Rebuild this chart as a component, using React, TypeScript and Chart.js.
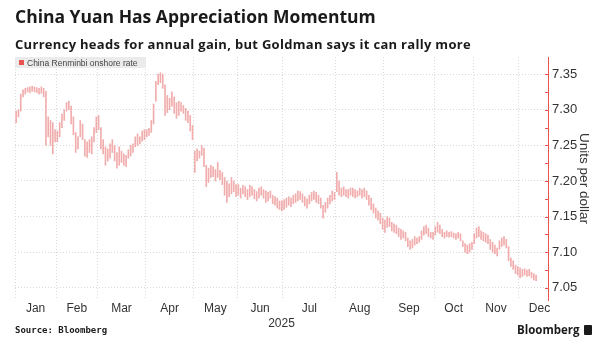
import React, { useEffect, useRef } from "react";
import { Chart, registerables } from "chart.js";

Chart.register(...registerables);

const TITLE = "China Yuan Has Appreciation Momentum";
const SUBTITLE = "Currency heads for annual gain, but Goldman says it can rally more";
const SERIES_NAME = "China Renminbi onshore rate";
const Y_TITLE = "Units per dollar";
const YEAR_LABEL = "2025";
const SOURCE = "Source: Bloomberg";

const MONTHS = ["Jan", "Feb", "Mar", "Apr", "May", "Jun", "Jul", "Aug", "Sep", "Oct", "Nov", "Dec"];
// trading days per month shown on the chart
const MONTH_DAYS = [18, 18, 21, 21, 19, 20, 23, 21, 22, 17, 20, 8];
const Y_TICKS = [7.05, 7.1, 7.15, 7.2, 7.25, 7.3, 7.35];

// daily low of the onshore rate
const LOW = [
  /* Jan */ 7.282, 7.29, 7.298, 7.318, 7.322, 7.325, 7.324, 7.326, 7.325, 7.324, 7.322, 7.323, 7.318, 7.25, 7.262, 7.25, 7.238, 7.255,
  /* Feb */ 7.255, 7.262, 7.275, 7.285, 7.298, 7.3, 7.28, 7.265, 7.24, 7.245, 7.262, 7.258, 7.235, 7.233, 7.24, 7.238, 7.255, 7.268,
  /* Mar */ 7.272, 7.245, 7.238, 7.222, 7.228, 7.232, 7.24, 7.228, 7.218, 7.222, 7.226, 7.222, 7.22, 7.232, 7.235, 7.24, 7.248, 7.25, 7.252, 7.256, 7.258,
  /* Apr */ 7.262, 7.264, 7.268, 7.28, 7.312, 7.335, 7.338, 7.33, 7.292, 7.296, 7.3, 7.305, 7.295, 7.288, 7.292, 7.298, 7.295, 7.285, 7.282, 7.27, 7.258,
  /* May */ 7.212, 7.228, 7.232, 7.236, 7.22, 7.192, 7.198, 7.205, 7.206, 7.2, 7.205, 7.202, 7.195, 7.18, 7.17, 7.178, 7.182, 7.185, 7.178,
  /* Jun */ 7.18, 7.176, 7.182, 7.178, 7.174, 7.178, 7.18, 7.175, 7.172, 7.176, 7.18, 7.176, 7.17, 7.172, 7.176, 7.168, 7.166, 7.162, 7.16, 7.158,
  /* Jul */ 7.16, 7.163, 7.166, 7.164, 7.168, 7.17, 7.172, 7.174, 7.17, 7.165, 7.162, 7.168, 7.172, 7.174, 7.17, 7.168, 7.162, 7.148, 7.156, 7.162, 7.168, 7.172, 7.174,
  /* Aug */ 7.185, 7.18, 7.178, 7.18, 7.178, 7.176, 7.18, 7.178, 7.176, 7.178, 7.18, 7.176, 7.178, 7.174, 7.166, 7.16, 7.155, 7.148, 7.145, 7.14, 7.132,
  /* Sep */ 7.128, 7.135, 7.136, 7.13, 7.128, 7.126, 7.122, 7.118, 7.12, 7.116, 7.108, 7.104, 7.106, 7.11, 7.112, 7.114, 7.118, 7.124, 7.126, 7.122, 7.12, 7.118,
  /* Oct */ 7.124, 7.128, 7.126, 7.122, 7.12, 7.122, 7.121, 7.122, 7.12, 7.118, 7.12, 7.116, 7.108, 7.1, 7.098, 7.1, 7.104,
  /* Nov */ 7.112, 7.12, 7.122, 7.118, 7.116, 7.114, 7.112, 7.104, 7.1, 7.098, 7.095, 7.104, 7.108, 7.11, 7.106, 7.088, 7.08, 7.076, 7.07, 7.068,
  /* Dec */ 7.064, 7.066, 7.068, 7.066, 7.067, 7.064, 7.061, 7.06,
];

// daily high of the onshore rate
const HIGH = [
  /* Jan */ 7.298, 7.3, 7.322, 7.328, 7.33, 7.331, 7.332, 7.333, 7.332, 7.331, 7.33, 7.332, 7.33, 7.326, 7.29, 7.285, 7.282, 7.272,
  /* Feb */ 7.27, 7.282, 7.294, 7.3, 7.31, 7.312, 7.305, 7.29, 7.268, 7.262, 7.285, 7.28, 7.258, 7.255, 7.258, 7.262, 7.275, 7.29,
  /* Mar */ 7.292, 7.275, 7.258, 7.248, 7.245, 7.252, 7.258, 7.25, 7.24, 7.248, 7.242, 7.238, 7.236, 7.244, 7.25, 7.252, 7.262, 7.266, 7.262, 7.27, 7.272,
  /* Apr */ 7.272, 7.274, 7.285, 7.308, 7.34, 7.35, 7.352, 7.35, 7.335, 7.32, 7.316, 7.325, 7.318, 7.31, 7.312, 7.31, 7.306, 7.302, 7.298, 7.292, 7.278,
  /* May */ 7.242, 7.245, 7.242, 7.25, 7.246, 7.222, 7.218, 7.222, 7.22, 7.216, 7.226, 7.215, 7.212, 7.205, 7.2, 7.196, 7.205, 7.2, 7.195,
  /* Jun */ 7.195, 7.19, 7.194, 7.192, 7.188, 7.194, 7.192, 7.188, 7.185, 7.19, 7.192, 7.188, 7.186, 7.184, 7.186, 7.18, 7.178, 7.176, 7.172, 7.172,
  /* Jul */ 7.174, 7.176, 7.178, 7.176, 7.18, 7.182, 7.186, 7.185, 7.182, 7.178, 7.175, 7.18, 7.184, 7.186, 7.184, 7.18, 7.176, 7.166, 7.17, 7.176, 7.18, 7.186, 7.184,
  /* Aug */ 7.212, 7.2, 7.19, 7.192, 7.188, 7.188, 7.19, 7.19, 7.188, 7.186, 7.19, 7.188, 7.19, 7.186, 7.18, 7.176, 7.168, 7.162, 7.158, 7.155, 7.148,
  /* Sep */ 7.145, 7.15, 7.148, 7.142, 7.14, 7.138, 7.134, 7.132, 7.13, 7.128, 7.12, 7.116, 7.118, 7.122, 7.12, 7.122, 7.13, 7.136, 7.138, 7.134, 7.128, 7.128,
  /* Oct */ 7.136, 7.142, 7.138, 7.132, 7.128, 7.13, 7.128, 7.129, 7.127, 7.126, 7.128, 7.126, 7.116, 7.112, 7.11, 7.112, 7.114,
  /* Nov */ 7.126, 7.134, 7.136, 7.13, 7.128, 7.126, 7.124, 7.118, 7.114, 7.11, 7.106, 7.116, 7.12, 7.122, 7.118, 7.108, 7.092, 7.088, 7.082, 7.08,
  /* Dec */ 7.078, 7.076, 7.077, 7.075, 7.076, 7.072, 7.07, 7.068,
];

const Y_MIN = 7.033;
const Y_MAX = 7.374;
const X_MAX = 232.7;
const DEC_LABEL_END = 238;

const BAR_COLOR = "#f1adad";
const LEGEND_RED = "#e8534f";
const AXIS_RED = "#e8534f";
const GRID = "#d9d9d9";
const TEXT = "#333333";
const TICK_FONT = "'Liberation Sans Narrow', 'Liberation Sans', sans-serif";
const HEAD_FONT = "'Open Sans', 'Noto Sans', sans-serif";

export default function App() {
  const ref = useRef<HTMLCanvasElement>(null);

  useEffect(() => {
    const starts: number[] = [];
    let acc = 0;
    MONTH_DAYS.forEach((d) => {
      starts.push(acc);
      acc += d;
    });
    const centers = starts.map((s, i) => (s + (i + 1 < starts.length ? starts[i + 1] : DEC_LABEL_END)) / 2);
    const data = LOW.map((lo, i) => ({ x: i + 0.5, y: [lo, HIGH[i]] }));

    const axisTicks = {
      id: "axisTicks",
      afterDraw(chart: any) {
        const y = chart.scales.y;
        const ctx = chart.ctx;
        const x0 = chart.chartArea.right;
        ctx.save();
        ctx.strokeStyle = AXIS_RED;
        ctx.lineWidth = 1;
        for (let v = Y_TICKS[0]; v <= Y_MAX + 1e-9; v += 0.025) {
          const py = Math.round(y.getPixelForValue(v)) + 0.5;
          ctx.beginPath();
          ctx.moveTo(x0 - 3, py);
          ctx.lineTo(x0, py);
          ctx.stroke();
        }
        ctx.restore();
      },
    };

    const chart = new Chart(ref.current as HTMLCanvasElement, {
      type: "bar",
      data: {
        datasets: [
          {
            label: SERIES_NAME,
            data: data as any,
            backgroundColor: BAR_COLOR,
            borderWidth: 0,
            barThickness: 1,
            xAxisID: "x",
            yAxisID: "y",
          },
        ],
      },
      options: {
        animation: false,
        responsive: false,
        maintainAspectRatio: false,
        layout: { padding: { left: 15, top: 57, right: 12, bottom: 30 } },
        plugins: { legend: { display: false }, tooltip: { enabled: false }, title: { display: false } },
        scales: {
          x: {
            type: "linear",
            position: "bottom",
            offset: false,
            min: 0,
            max: X_MAX,
            afterBuildTicks: (s: any) => {
              s.ticks = starts.map((v) => ({ value: v }));
            },
            afterFit: (s: any) => {
              s.height = 0;
            },
            ticks: { display: false },
            grid: { display: true, offset: false, color: GRID, drawTicks: false },
            border: { display: false, dash: [1, 2] },
          },
          xl: {
            type: "linear",
            position: "bottom",
            offset: false,
            min: 0,
            max: X_MAX,
            afterBuildTicks: (s: any) => {
              s.ticks = centers.map((v) => ({ value: v }));
            },
            afterFit: (s: any) => {
              s.height = 31;
            },
            ticks: {
              autoSkip: false,
              maxRotation: 0,
              padding: -7,
              color: TEXT,
              font: { family: TICK_FONT, size: 12 },
              callback: (_v: any, i: number) => MONTHS[i],
            },
            grid: { display: false, offset: false },
            border: { display: false },
            title: { display: true, text: YEAR_LABEL, padding: 0, color: TEXT, font: { family: TICK_FONT, size: 12 } },
          },
          y: {
            type: "linear",
            position: "right",
            min: Y_MIN,
            max: Y_MAX,
            afterBuildTicks: (s: any) => {
              s.ticks = Y_TICKS.map((v) => ({ value: v }));
            },
            afterFit: (s: any) => {
              s.width = 44;
            },
            ticks: {
              padding: 4,
              color: TEXT,
              font: { family: TICK_FONT, size: 13 },
              callback: (v: any) => Number(v).toFixed(2),
            },
            grid: { color: GRID, drawTicks: false },
            border: { display: true, color: AXIS_RED, width: 1, dash: [1, 2] },
            title: {
              display: true,
              text: Y_TITLE,
              padding: 0,
              color: TEXT,
              font: { family: "'Liberation Sans', sans-serif", size: 13.5 },
            },
          },
        },
      } as any,
      plugins: [axisTicks],
    });
    return () => chart.destroy();
  }, []);

  return (
    <div style={{ position: "absolute", left: 0, top: 0, width: 604, height: 361, background: "#fff", overflow: "hidden" }}>
      <canvas ref={ref} width={604} height={361} style={{ position: "absolute", left: 0, top: 0, width: 604, height: 361 }} />
      <div
        style={{
          position: "absolute",
          left: 15,
          top: 5,
          fontFamily: HEAD_FONT,
          fontWeight: 700,
          fontSize: 17.5,
          lineHeight: "22px",
          color: "#1a1a1a",
          whiteSpace: "nowrap",
        }}
      >
        {TITLE}
      </div>
      <div
        style={{
          position: "absolute",
          left: 15,
          top: 36,
          fontFamily: HEAD_FONT,
          fontWeight: 700,
          fontSize: 13,
          letterSpacing: 0.3,
          lineHeight: "16px",
          color: "#1a1a1a",
          whiteSpace: "nowrap",
        }}
      >
        {SUBTITLE}
      </div>
      <div
        style={{
          position: "absolute",
          left: 15,
          top: 57,
          width: 131,
          height: 11,
          background: "rgba(232,232,232,0.85)",
          display: "flex",
          alignItems: "center",
          fontFamily: "'Liberation Sans', sans-serif",
          fontSize: 8.5,
          color: "#444",
          whiteSpace: "nowrap",
        }}
      >
        <span style={{ display: "inline-block", width: 5, height: 5, background: LEGEND_RED, marginLeft: 4, marginRight: 3 }} />
        {SERIES_NAME}
      </div>
      <div
        style={{
          position: "absolute",
          left: 15,
          top: 325,
          fontFamily: "'DejaVu Sans Mono', monospace",
          fontWeight: 700,
          fontSize: 9,
          lineHeight: "11px",
          color: "#1a1a1a",
          whiteSpace: "nowrap",
        }}
      >
        {SOURCE}
      </div>
      <div
        style={{
          position: "absolute",
          left: 517,
          top: 323,
          display: "flex",
          alignItems: "center",
          fontFamily: HEAD_FONT,
          fontWeight: 700,
          fontSize: 11.5,
          lineHeight: "14px",
          color: "#1a1a1a",
          whiteSpace: "nowrap",
        }}
      >
        Bloomberg
        <span style={{ display: "inline-block", width: 8, height: 10, background: "#1a1a1a", borderRadius: 1, marginLeft: 4 }} />
      </div>
    </div>
  );
}
